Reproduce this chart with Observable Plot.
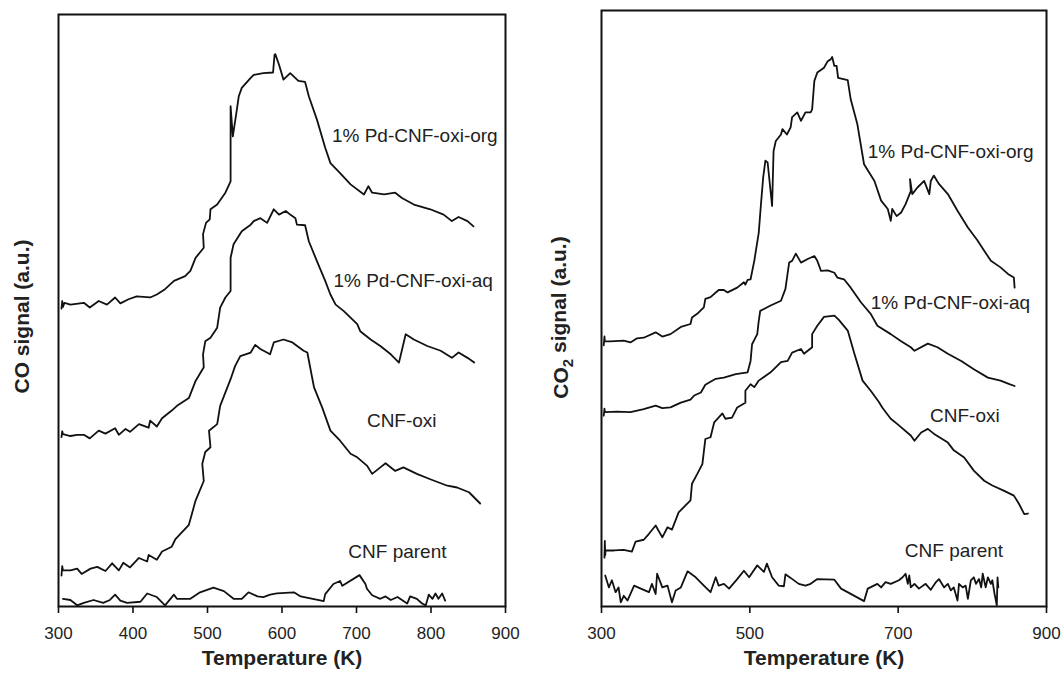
<!DOCTYPE html>
<html>
<head>
<meta charset="utf-8">
<script src="https://cdn.jsdelivr.net/npm/d3@7"></script>
<script src="https://cdn.jsdelivr.net/npm/@observablehq/plot@0.6"></script>
<style>
  html, body { margin: 0; padding: 0; background: #fff; }
  #wrap { position: relative; width: 1064px; height: 676px; overflow: hidden; }
  #wrap > div { position: absolute; top: 0; }
</style>
</head>
<body>
<div id="wrap"><div id="left" style="left:0"></div><div id="right" style="left:532px"></div></div>
<script>
// ---------- Data: [Temperature (K), signal (a.u.)] ----------
const leftTicks = [300, 400, 500, 600, 700, 800, 900];
const rightTicks = [300, 500, 700, 900];
const xTitle = "Temperature (K)";
const leftYTitle = "CO signal (a.u.)";
const rightYTitle = "CO2 signal (a.u.)";

const coOrg = [[304,50.3],[305,51.6],[306,50.6],[308,51.3],[316,51.0],[334,51.3],[342,50.5],[354,51.6],[365,51.0],[376,52.2],[383,51.2],[394,51.9],[405,52.4],[423,52.2],[432,52.7],[443,53.6],[455,55.0],[470,55.8],[477,56.7],[484,58.9],[495,60.6],[494,62.9],[498,64.8],[503,65.4],[504,67.1],[513,67.9],[524,69.9],[531,71.8],[531,84.5],[534,79.4],[539,83.6],[542,86.2],[546,87.6],[558,89.3],[562,89.8],[575,90.1],[588,90.2],[590,93.2],[591,93.3],[596,91.5],[602,89.0],[611,90.1],[622,88.8],[631,88.6],[636,86.2],[647,82.2],[658,77.5],[665,74.9],[678,73.2],[692,71.3],[710,69.6],[716,71.0],[721,69.9],[737,69.6],[752,69.9],[761,69.0],[777,67.9],[799,67.1],[817,66.2],[828,65.1],[837,65.8],[849,65.1],[857,64.2]];

const coAq = [[304,28.6],[305,29.6],[306,29.1],[316,28.8],[325,29.0],[334,29.0],[342,28.4],[354,29.7],[363,29.2],[376,30.1],[381,29.0],[390,30.0],[396,29.5],[408,30.8],[421,30.2],[423,31.4],[432,30.4],[439,31.8],[452,33.1],[459,33.9],[475,35.2],[484,38.1],[495,40.4],[494,42.6],[497,44.8],[504,45.4],[513,47.1],[517,50.5],[524,52.2],[531,53.3],[531,58.9],[535,61.2],[546,63.4],[558,64.5],[562,65.1],[571,65.6],[580,64.8],[589,67.1],[596,66.2],[605,66.8],[611,66.2],[618,65.6],[620,64.5],[631,64.4],[636,61.7],[647,58.3],[658,55.0],[665,52.7],[672,51.0],[683,49.9],[692,48.8],[701,47.7],[705,46.5],[719,45.1],[732,44.0],[746,42.6],[757,41.2],[766,46.0],[777,45.1],[795,44.0],[813,43.2],[828,42.0],[837,42.9],[849,42.0],[858,41.2]];

const coOxi = [[304,5.2],[305,6.8],[306,6.1],[316,6.1],[325,6.4],[331,5.5],[343,6.4],[352,6.7],[363,6.0],[372,7.3],[381,6.1],[387,7.4],[396,6.6],[408,8.2],[419,7.6],[421,8.7],[432,7.9],[439,9.3],[452,10.1],[457,11.4],[475,13.8],[484,17.9],[495,21.2],[493,24.1],[497,26.1],[504,26.9],[502,29.7],[513,30.8],[517,33.9],[531,38.4],[537,40.6],[544,42.3],[558,42.9],[564,44.2],[571,43.5],[584,42.6],[589,44.6],[602,45.1],[614,44.6],[629,43.2],[634,42.9],[643,37.0],[654,33.6],[665,29.7],[678,28.0],[692,25.8],[701,25.2],[714,23.8],[721,22.4],[732,23.5],[739,24.2],[752,22.9],[763,23.5],[781,22.4],[799,21.5],[822,20.4],[835,20.1],[851,19.3],[866,17.4]];

const coParent = [[306,1.3],[316,1.1],[325,0.2],[334,0.6],[347,1.1],[360,0.6],[369,1.1],[376,2.0],[383,1.0],[392,0.6],[410,0.8],[419,2.2],[432,1.6],[443,0.2],[455,2.0],[459,1.3],[477,1.3],[490,2.4],[508,3.2],[522,2.6],[535,1.3],[546,1.3],[555,2.4],[567,1.7],[575,1.6],[584,2.0],[593,2.2],[616,2.4],[625,1.7],[656,0.9],[658,2.1],[669,3.8],[678,4.3],[681,3.5],[704,5.3],[712,3.8],[714,3.0],[721,1.9],[732,1.3],[739,1.7],[746,1.1],[755,1.6],[768,0.5],[772,1.7],[781,1.3],[788,0.5],[793,0.2],[797,2.0],[802,1.3],[806,2.2],[810,1.3],[815,2.2],[819,1.0]];

const co2Org = [[303,43.8],[304,45.3],[304.5,44.5],[312,44.5],[330,44.6],[339,44.3],[348,45.0],[357,45.1],[373,46.0],[382,45.3],[393,45.7],[407,46.9],[420,47.4],[422,48.5],[429,49.1],[438,50.2],[440,51.6],[447,51.9],[458,53.1],[465,53.1],[470,52.7],[483,53.5],[492,54.4],[494,54.0],[497,54.8],[501,54.9],[506,58.0],[512,62.7],[515,67.5],[518,72.0],[521,74.8],[524,74.5],[530,67.2],[532,76.4],[535,78.1],[542,79.2],[544,80.1],[550,79.2],[555,80.4],[557,82.1],[564,82.9],[569,81.5],[575,82.9],[582,82.9],[584,83.4],[587,88.2],[591,89.6],[600,90.4],[605,91.5],[609,91.8],[611,92.2],[614,90.7],[617,90.7],[619,88.7],[632,88.3],[636,85.1],[645,80.9],[654,74.2],[668,71.4],[677,68.1],[686,66.7],[690,64.7],[692,66.7],[698,65.5],[704,66.1],[710,67.5],[717,69.7],[716,71.7],[719,69.2],[726,70.3],[735,71.4],[742,69.2],[744,71.4],[748,72.3],[755,70.9],[767,69.2],[780,66.4],[794,63.6],[807,61.4],[816,59.7],[825,58.0],[838,56.9],[848,55.8],[856,55.2],[857,53.5]];

const co2Aq = [[303,32.0],[304,33.2],[304.5,32.6],[321,32.7],[339,32.6],[357,33.1],[373,33.7],[382,33.3],[393,33.4],[407,34.2],[420,34.7],[425,35.4],[434,35.9],[440,37.2],[454,38.2],[465,38.4],[481,39.0],[497,39.3],[501,41.2],[503,44.0],[510,45.7],[512,47.9],[514,49.6],[528,50.5],[542,51.3],[548,53.3],[553,57.7],[557,58.0],[562,59.2],[569,57.7],[578,58.3],[587,58.8],[591,58.0],[596,56.3],[605,56.4],[614,56.0],[618,55.2],[627,54.9],[636,53.5],[650,51.0],[663,49.1],[672,47.1],[690,45.7],[704,44.5],[717,43.5],[722,42.9],[740,44.1],[753,43.5],[767,42.4],[785,41.2],[802,39.8],[821,38.4],[838,37.9],[850,37.3],[857,37.0]];

const co2Oxi = [[304,8.2],[304.5,11.0],[305,8.6],[305.4,9.4],[317,9.4],[330,9.5],[341,9.2],[346,10.9],[357,11.2],[364,12.2],[373,13.6],[382,11.6],[389,13.3],[395,12.9],[404,15.8],[420,17.8],[422,20.6],[429,22.2],[436,23.9],[440,28.1],[447,28.4],[452,30.9],[463,32.4],[467,31.5],[476,31.7],[483,33.4],[494,34.2],[494,36.2],[501,37.3],[506,36.8],[512,37.9],[528,39.3],[542,41.0],[551,41.2],[557,42.6],[569,43.2],[573,42.4],[584,43.5],[584,45.7],[591,47.1],[600,48.6],[614,48.8],[620,48.1],[632,46.3],[641,42.4],[652,37.9],[663,36.2],[674,34.3],[679,33.3],[690,31.5],[699,30.6],[717,28.7],[722,27.8],[731,29.2],[740,29.8],[748,29.0],[767,27.5],[775,26.2],[789,25.0],[802,22.8],[816,21.1],[827,20.3],[843,19.4],[856,18.6],[863,17.2],[870,15.5],[875,15.6]];

const co2Parent = [[305,5.2],[310,3.2],[314,4.4],[319,2.4],[323,3.2],[326,0.7],[330,1.8],[335,1.0],[344,3.5],[353,3.0],[364,2.4],[368,3.8],[373,2.1],[375,5.5],[382,3.2],[389,3.5],[395,0.7],[400,2.7],[407,3.2],[416,5.9],[427,4.9],[438,3.5],[447,2.4],[454,4.9],[458,3.5],[465,3.8],[472,3.0],[483,4.6],[492,6.0],[499,4.9],[510,6.9],[519,5.8],[523,7.2],[530,4.9],[539,3.5],[546,3.4],[548,5.4],[555,4.8],[566,3.8],[575,3.5],[582,3.8],[591,4.6],[614,4.5],[623,3.0],[654,0.9],[659,3.0],[672,3.8],[677,3.2],[683,4.1],[690,3.8],[701,4.4],[706,4.9],[710,5.5],[713,3.8],[715,5.2],[717,3.2],[722,3.8],[728,3.0],[737,3.8],[744,2.8],[751,4.1],[755,4.6],[762,3.2],[767,3.8],[771,2.7],[775,3.2],[780,1.0],[782,3.8],[787,3.2],[791,3.5],[794,1.3],[798,4.4],[802,4.9],[805,3.8],[809,4.6],[812,3.2],[814,5.5],[818,3.2],[821,4.9],[825,3.8],[827,4.4],[830,2.1],[833,0.2],[834,4.9],[835,3.2]];

const leftLabels = [
  {name: "1% Pd-CNF-oxi-org", t: 667, v: 79.5},
  {name: "1% Pd-CNF-oxi-aq", t: 669, v: 55.0},
  {name: "CNF-oxi", t: 714, v: 31.4},
  {name: "CNF parent", t: 689, v: 9.2}
];
const rightLabels = [
  {name: "1% Pd-CNF-oxi-org", t: 659, v: 76.2},
  {name: "1% Pd-CNF-oxi-aq", t: 663, v: 51.0},
  {name: "CNF-oxi", t: 743, v: 32.0},
  {name: "CNF parent", t: 709, v: 9.4}
];

// ---------- Drawing ----------
const FONT = "'Liberation Sans', Arial, Helvetica, sans-serif";
const INK = "#111";

function panel({series, labels, ticks, yTitle, margins, yTitleDx, yTitleDy}) {
  return Plot.plot({
    width: 532,
    height: 676,
    marginLeft: margins[0],
    marginRight: margins[1],
    marginTop: margins[2],
    marginBottom: margins[3],
    x: {domain: [300, 900]},
    y: {domain: [0, 100], axis: null},
    style: {fontFamily: FONT, background: "white", color: INK, overflow: "visible"},
    marks: [
      Plot.axisX({ticks, tickSize: 7, tickPadding: 13, fontSize: 17, label: null,
                  strokeWidth: 1.6, tickFormat: d => String(d), fill: "#222"}),
      ...series.map(s => Plot.line(s, {x: d => d[0], y: d => d[1], stroke: INK,
                  strokeWidth: 1.8, strokeLinejoin: "round", strokeLinecap: "round"})),
      Plot.text(labels, {x: "t", y: "v", text: "name", textAnchor: "start",
                  fontSize: 19, fill: "#222"}),
      Plot.text([xTitle], {frameAnchor: "bottom", dy: 58, fontSize: 21,
                  fontWeight: "bold", fill: "#222"}),
      Plot.text([yTitle], {frameAnchor: "left", textAnchor: "middle", rotate: -90,
                  dx: yTitleDx, dy: yTitleDy, fontSize: 21, fontWeight: "bold",
                  fill: "#222", className: "ytitle"}),
      Plot.frame({stroke: INK, strokeWidth: 2})
    ]
  });
}

const left = panel({
  series: [coOrg, coAq, coOxi, coParent], labels: leftLabels, ticks: leftTicks,
  yTitle: leftYTitle, margins: [58, 27, 14, 70], yTitleDx: -36, yTitleDy: 6
});
const right = panel({
  series: [co2Org, co2Aq, co2Oxi, co2Parent], labels: rightLabels, ticks: rightTicks,
  yTitle: rightYTitle, margins: [69, 18, 10, 70], yTitleDx: -40, yTitleDy: 9
});

document.getElementById("left").appendChild(left);
document.getElementById("right").appendChild(right);

// Subscript the 2 in CO2
const t = right.querySelector("g.ytitle text");
if (t) {
  const ns = "http://www.w3.org/2000/svg";
  t.textContent = "";
  const a = document.createElementNS(ns, "tspan"); a.textContent = "CO";
  const b = document.createElementNS(ns, "tspan"); b.textContent = "2";
  b.setAttribute("dy", "0.3em"); b.setAttribute("font-size", "15");
  const c = document.createElementNS(ns, "tspan"); c.textContent = " signal (a.u.)";
  c.setAttribute("dy", "-0.3em");
  t.appendChild(a); t.appendChild(b); t.appendChild(c);
}
</script>
</body>
</html>
